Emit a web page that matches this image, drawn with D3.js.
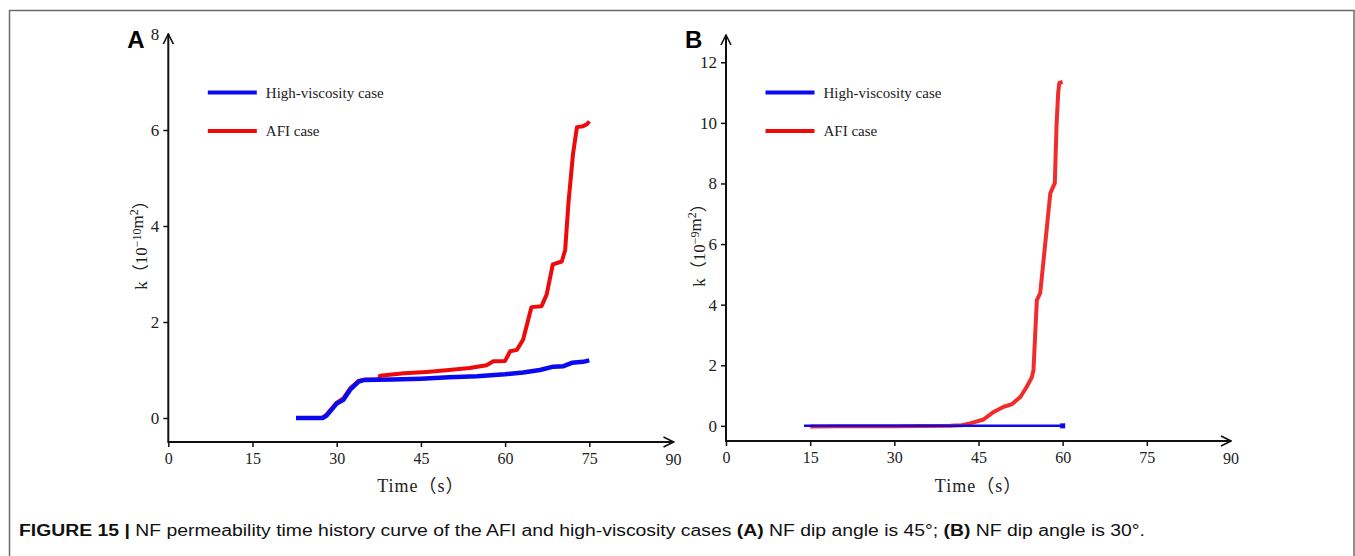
<!DOCTYPE html>
<html lang="en">
<head>
  <meta charset="UTF-8">
  <title>Figure 15</title>
  <script src="https://d3js.org/d3.v7.min.js"></script>
  <style>
    * { margin: 0; padding: 0; box-sizing: border-box; }
    body { background: #fff; }
    .tick text { font-family: "Liberation Serif", serif; font-size: 16px; fill: #222; }
    .yax .tick text { font-size: 17px; }
    .tick line { stroke: #111; stroke-width: 1.5; }
  </style>
</head>
<body>
  <div id="chart"></div>
  <script>
    // time ticks shared by both panels
    const timeTicks = [0, 15, 30, 45, 60, 75, 90];
    const kTicksA = [0, 2, 4, 6, 8];
    const kTicksB = [0, 2, 4, 6, 8, 10, 12];
    const seriesNames = ["High-viscosity case", "AFI case"];

    // panel A (dip angle 45°), k in 1e-10 m^2
    const highViscA = [[22.75,0],[27.5,0],[28.2,0.05],[30,0.3],[31.2,0.38],[32.4,0.59],[33.9,0.76],[34.8,0.79],
      [40,0.80],[45,0.82],[50,0.85],[55,0.87],[60,0.91],[63.2,0.95],[66.2,1.0],[68.6,1.07],[70.4,1.08],
      [71.9,1.15],[73.9,1.17],[75,1.2]];
    const afiA = [[27.5,0.01],[28.2,0.07],[30,0.32],[31.2,0.41],[32.4,0.62],[33.9,0.77],[35,0.8],[37.6,0.8],
      [37.7,0.88],[42,0.93],[46,0.96],[50,1.0],[53.7,1.04],[56.7,1.1],[57.9,1.18],[60,1.19],[60.9,1.39],
      [62.1,1.42],[63.2,1.63],[64.7,2.31],[66.5,2.33],[67.4,2.57],[68.5,3.2],[70.1,3.26],[70.7,3.5],
      [71.3,4.5],[72.1,5.5],[72.8,6.06],[73.9,6.08],[74.6,6.12],[75,6.18]];

    // panel B (dip angle 30°), k in 1e-9 m^2
    const highViscB = [[13.9,0],[60,0]];
    const afiB = [[15,-0.02],[20,-0.01],[30,-0.01],[40,0],[42,0.02],[43.5,0.08],[45.9,0.21],[47.7,0.46],
      [49.5,0.63],[51,0.72],[52.5,0.96],[53.6,1.29],[54.5,1.6],[54.8,1.84],[55.1,3.0],[55.4,4.15],[56,4.38],
      [57.2,6.58],[57.8,7.68],[58.6,8.01],[58.9,9.88],[59.2,10.99],[59.4,11.32],[60,11.35]];

    const W = 1355, H = 556;
    const svg = d3.select("#chart").append("svg")
      .attr("width", W).attr("height", H)
      .style("display", "block");

    svg.append("defs").append("marker")
      .attr("id", "arrow")
      .attr("viewBox", "0 0 12 12")
      .attr("refX", 11).attr("refY", 6)
      .attr("markerWidth", 12).attr("markerHeight", 12)
      .attr("markerUnits", "userSpaceOnUse")
      .attr("orient", "auto")
      .append("path")
      .attr("d", "M1,1 L11,6 L1,11")
      .attr("fill", "none").attr("stroke", "#111").attr("stroke-width", 1.6);

    // outer frame
    svg.append("path")
      .attr("d", `M9.5,${H + 5} V10.5 H1354 V${H + 5}`)
      .attr("fill", "none").attr("stroke", "#6b6b6b").attr("stroke-width", 1.5);

    function drawPanel(p) {
      const x = d3.scaleLinear().domain([0, 90]).range(p.xr);
      const y = d3.scaleLinear().domain(p.yd).range(p.yr);
      const g = svg.append("g");

      g.append("g")
        .attr("transform", `translate(0,${p.yr[0]})`)
        .call(d3.axisBottom(x).tickValues(timeTicks.slice(0, -1)).tickSize(5).tickPadding(6).tickSizeOuter(0))
        .call(a => a.select(".domain").remove());
      g.append("text")
        .attr("x", x(90)).attr("y", p.yr[0] + 23)
        .attr("text-anchor", "middle")
        .style("font-family", "Liberation Serif, serif").style("font-size", "16px").style("fill", "#222")
        .text(timeTicks[timeTicks.length - 1]);

      g.append("g").attr("class", "yax")
        .attr("transform", `translate(${p.xr[0]},0)`)
        .call(d3.axisLeft(y).tickValues(p.ticks).tickSize(5).tickPadding(4).tickSizeOuter(0))
        .call(a => a.select(".domain").remove())
        .call(a => a.selectAll(".tick").filter(d => d === p.noTickLine).select("line").remove());

      g.append("line")
        .attr("x1", p.xr[0]).attr("x2", p.xr[1]).attr("y1", p.yr[0]).attr("y2", p.yr[0])
        .attr("stroke", "#111").attr("stroke-width", 2).attr("marker-end", "url(#arrow)");
      g.append("line")
        .attr("x1", p.xr[0]).attr("x2", p.xr[0]).attr("y1", p.yr[0] + 1).attr("y2", p.yr[1])
        .attr("stroke", "#111").attr("stroke-width", 2).attr("marker-end", "url(#arrow)");

      const line = d3.line().x(d => x(d[0])).y(d => y(d[1]));
      g.append("path").datum(p.afi)
        .attr("d", line).attr("fill", "none")
        .attr("stroke", p.red).attr("stroke-width", 4).attr("stroke-linejoin", "round");
      g.append("path").datum(p.hv)
        .attr("d", line).attr("fill", "none")
        .attr("stroke", "#0a0af0").attr("stroke-width", p.blueW).attr("stroke-linejoin", "round");
      if (p.endMark) {
        const last = p.hv[p.hv.length - 1];
        g.append("rect")
          .attr("x", x(last[0]) - 2.5).attr("y", y(last[1]) - 2.5)
          .attr("width", 5).attr("height", 5).attr("fill", "#0a0af0");
      }

      // legend
      const lg = g.append("g").attr("transform", `translate(${p.xr[0] + 39.5},92.5)`);
      [["#0a0af0", seriesNames[0]], ["#ee0a0a", seriesNames[1]]].forEach((s, i) => {
        lg.append("line").attr("x1", 0).attr("x2", 49).attr("y1", i * 38.5).attr("y2", i * 38.5)
          .attr("stroke", s[0]).attr("stroke-width", 4);
        lg.append("text").attr("x", 58).attr("y", i * 38.5 + 5)
          .style("font-family", "Liberation Serif, serif").style("font-size", "15px").style("fill", "#222")
          .text(s[1]);
      });

      // panel letter
      g.append("text").attr("x", p.xr[0] - 41).attr("y", 48)
        .style("font-family", "Liberation Sans, Arial, sans-serif").style("font-size", "24px")
        .style("font-weight", "bold").style("fill", "#000")
        .text(p.letter);

      // axis titles
      const yl = g.append("text")
        .attr("transform", `translate(${p.xr[0] - 21},241) rotate(-90)`)
        .attr("text-anchor", "middle")
        .style("font-family", "Liberation Serif, 'Noto Sans CJK SC', serif").style("font-size", "17px").style("fill", "#222");
      yl.append("tspan").text("k\uff0810");
      yl.append("tspan").attr("dy", -6).style("font-size", "12px").text(p.exp);
      yl.append("tspan").attr("dy", 2).text("m");
      yl.append("tspan").attr("dy", -5).style("font-size", "12px").text("2");
      yl.append("tspan").attr("dy", 9).text("\uff09");

      g.append("text")
        .attr("x", (p.xr[0] + x(90)) / 2).attr("y", 492)
        .attr("text-anchor", "middle")
        .style("font-family", "Liberation Serif, 'Noto Sans CJK SC', serif").style("font-size", "18px")
        .style("letter-spacing", "1px").style("fill", "#222")
        .text("Time\uff08s\uff09");
    }

    drawPanel({ letter: "A", xr: [168.3, 673.5], yd: [-0.5, 8], yr: [442, 34], ticks: kTicksA, noTickLine: 8,
      hv: highViscA, afi: afiA, red: "#ee0a0a", blueW: 4.5, exp: "\u221210", endMark: false });
    drawPanel({ letter: "B", xr: [726, 1231], yd: [-0.5, 12.9], yr: [441, 35], ticks: kTicksB, noTickLine: null,
      hv: highViscB, afi: afiB, red: "#f02c2c", blueW: 2.5, exp: "\u22129", endMark: true });

    // caption
    const cap = svg.append("text")
      .attr("x", 19).attr("y", 536)
      .attr("textLength", 1126).attr("lengthAdjust", "spacingAndGlyphs")
      .style("font-family", "Liberation Sans, Arial, sans-serif").style("font-size", "16px").style("fill", "#111");
    cap.append("tspan").style("font-weight", "bold").text("FIGURE 15 |");
    cap.append("tspan").text(" NF permeability time history curve of the AFI and high-viscosity cases ");
    cap.append("tspan").style("font-weight", "bold").text("(A)");
    cap.append("tspan").text(" NF dip angle is 45°; ");
    cap.append("tspan").style("font-weight", "bold").text("(B)");
    cap.append("tspan").text(" NF dip angle is 30°.");
  </script>
</body>
</html>
